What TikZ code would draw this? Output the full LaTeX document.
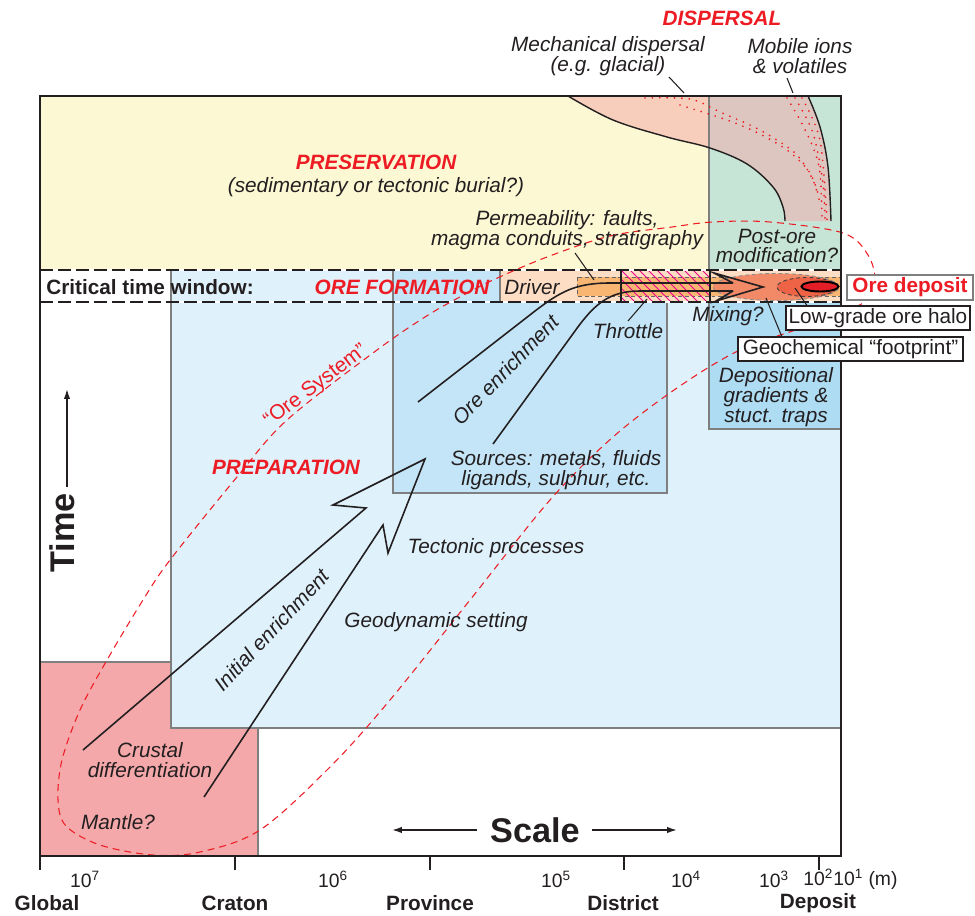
\documentclass[tikz,border=0pt]{standalone}
\usepackage{fontspec}
\setmainfont{Liberation Sans}
\usetikzlibrary{arrows.meta}
\definecolor{txt}{HTML}{231F20}
\definecolor{oxred}{HTML}{ED1C24}
\definecolor{yel}{HTML}{FCF8D4}
\definecolor{grn}{HTML}{C7E5D7}
\definecolor{salm}{HTML}{F6CEBB}
\definecolor{mauve}{HTML}{DDC6C0}
\definecolor{lblue}{HTML}{DFF1FB}
\definecolor{mblue}{HTML}{C4E5F7}
\definecolor{dblue}{HTML}{AEDCF3}
\definecolor{crust}{HTML}{F4A8AA}
\definecolor{porange}{HTML}{FDDEC5}
\definecolor{orng}{HTML}{F8B672}
\definecolor{ellA}{HTML}{F28A67}
\definecolor{ellB}{HTML}{EE6346}
\definecolor{ellC}{HTML}{E31E26}
\definecolor{hatchc}{HTML}{EC008C}
\definecolor{edgec}{HTML}{7F7F7F}
\tikzset{
  basefont/.style={font=\fontsize{11.8}{11.3}\selectfont},
  it/.style={font=\fontsize{11.8}{11.3}\selectfont\itshape, text=txt, align=center, inner sep=0pt},
  redb/.style={font=\fontsize{11.8}{11.3}\selectfont\bfseries\itshape, text=oxred, inner sep=0pt},
  redr/.style={font=\fontsize{11.8}{11.3}\selectfont, text=oxred, inner sep=0pt},
  bflbl/.style={font=\fontsize{11.8}{11.3}\selectfont\bfseries, text=txt, inner sep=0pt},
  ticklbl/.style={font=\fontsize{11}{12}\selectfont, text=txt, inner sep=0pt},
  biglbl/.style={font=\fontsize{19.5}{20}\selectfont\bfseries, text=txt, inner sep=0pt},
  whitebox/.style={font=\fontsize{11.8}{11.3}\selectfont, text=txt, fill=white, draw=txt, line width=0.6pt, inner sep=0pt, minimum height=0.48cm},
  depbox/.style={font=\fontsize{11.8}{11.3}\selectfont\bfseries, text=oxred, fill=white, draw=edgec, line width=0.6pt, inner sep=0pt, minimum height=0.5cm, minimum width=2.52cm},
  graybox/.style={draw=edgec, line width=0.6pt},
  leader/.style={draw=txt, line width=0.6pt},
  bigline/.style={draw=txt, line width=0.9pt, line join=miter},
  reddots/.style={draw=oxred, line width=1.1pt, dash pattern=on 0pt off 4.2pt, line cap=round},
  winline/.style={line width=1.7pt}
}
\begin{document}
\begin{tikzpicture}[x=0.02cm,y=-0.02cm]
\useasboundingbox (0,0) rectangle (975,916);

% preservation & green
\fill[yel] (40,96) rectangle (709,270);
\fill[grn] (709,96) rectangle (841,270);
% dispersal shape
\def\dispshape{plot[smooth, tension=0.6] coordinates {(568,96) (613,120) (667,137) (710,148) (747,164) (773,187) (783,207) (785,221)} -- plot[smooth, tension=0.6] coordinates {(831,221) (828,167) (820,127) (808,96)} -- cycle}
\fill[salm] \dispshape;
\begin{scope}
  \clip (709,96) rectangle (841,270);
  \fill[mauve] \dispshape;
\end{scope}
\draw[edgec, line width=0.6pt] (709,96) -- (709,270);
% red dotted trails
\draw[reddots] plot[smooth] coordinates {(645,98) (690,99) (720,112) (760,130) (795,153) (812,178) (818,196)};
\draw[reddots] plot[smooth] coordinates {(680,105) (727,120) (758,133) (787,150) (808,170) (817,190) (820,205)};
\draw[reddots] plot[smooth] coordinates {(787,98) (800,120) (813,147) (820,173) (822,220)};
\draw[reddots] plot[smooth] coordinates {(795,98) (813,133) (823,183) (825,220)};
\draw[reddots] plot[smooth] coordinates {(802,98) (820,140) (827,220)};
% black boundaries
\draw[txt, line width=0.8pt] plot[smooth, tension=0.6] coordinates {(568,96) (613,120) (667,137) (710,148) (747,164) (773,187) (783,207) (785,221)};
\draw[txt, line width=0.8pt] plot[smooth, tension=0.6] coordinates {(808,96) (820,127) (828,167) (831,221)};

% crustal differentiation box
\fill[crust] (40,662) rectangle (258,856);
\draw[graybox] (40,662) rectangle (258,856);
% preparation light blue
\fill[lblue] (171,270) rectangle (841,728);
\draw[graybox] (171,270) rectangle (841,728);
% ore enrichment box
\fill[mblue] (393,270) rectangle (667,493);
\draw[graybox] (393,270) rectangle (667,493);
% depositional box
\fill[dblue] (709,302) rectangle (841,429);
\draw[graybox] (709,302) rectangle (841,429);
% driver strip
\fill[porange] (500,270) rectangle (841,302);
\draw[graybox] (500,270) -- (500,302);
% orange conduit
\draw[fill=orng, draw=black!60, line width=0.5pt, dash pattern=on 2.2pt off 1.6pt] (577,277) rectangle (841,296);
% hatching in throttle
\begin{scope}
  \clip (621,270) rectangle (710,302);
  \foreach \i in {0,...,15} \draw[hatchc, line width=0.5pt] ({581+9*\i},266) -- ({621+9*\i},306);
\end{scope}
% ellipses
\draw[fill=ellA, draw=black!45, line width=0.5pt, dash pattern=on 2.2pt off 1.6pt] (776,287) ellipse [x radius=1.26cm, y radius=0.27cm];
\draw[fill=ellB, draw=black!75, line width=0.5pt, dash pattern=on 2.2pt off 1.6pt] (807,287) ellipse [x radius=0.6cm, y radius=0.19cm];
\draw[fill=ellC, draw=black, line width=1.1pt] (820,286.5) ellipse [x radius=0.37cm, y radius=0.1cm];

% ore-enrichment arrow
\draw[bigline] (418,402) -- (535,311) .. controls (560,292) and (575,283) .. (610,283) -- (733,283);
\draw[bigline] (493,444) -- (575,331) .. controls (595,303) and (610,291) .. (640,291) -- (733,291);
\draw[bigline] (733,283) -- (714,273) -- (763,287) -- (716,301) -- (733,291);
% throttle box
\draw[txt, line width=1.2pt] (621,270) rectangle (710,302);

% critical time window dashed lines
\draw[white, winline] (40,270) -- (841,270);
\draw[txt, winline, dash pattern=on 0.26cm off 0.1cm] (40,270) -- (841,270);
\draw[white, winline] (40,302) -- (841,302);
\draw[txt, winline, dash pattern=on 0.26cm off 0.1cm] (40,302) -- (841,302);

% initial enrichment arrow
\draw[bigline] (83,750) -- (366,508) -- (333,505) -- (425,459) -- (388,553) -- (383,525) -- (204,797);

% ore system loop
\draw[oxred, line width=0.6pt, dash pattern=on 0.14cm off 0.1cm] plot[smooth cycle, tension=0.55] coordinates {(547,257) (610,236) (672,227) (713,222) (770,222) (843,233) (868,255) (875,282) (863,303) (810,325) (740,350) (677,388) (613,437) (550,500) (470,600) (390,700) (330,767) (260,830) (200,852) (153,855) (100,845) (66,826) (58,800) (62,760) (80,710) (107,660) (143,600) (170,560) (237,477) (287,420) (377,350) (425,317) (458,298) (493,280)};

% frame
\draw[txt, line width=1.2pt] (40,96) rectangle (841,856);
% ticks
\foreach \x in {40,235,430,624,819} \draw[txt, line width=1.1pt] (\x,856) -- (\x,870);

% texts
\node[redb] (disp) at (722,18) {DISPERSAL};
\node[it] (mech) at (608,56) {Mechanical dispersal\\(e.g. glacial)};
\node[it] (mob) at (800,56) {Mobile ions\\\& volatiles};
\coordinate (mechA) at (669,77); \coordinate (mechB) at (684,93);
\coordinate (mobA) at (787,78); \coordinate (mobB) at (793,93);
\draw[leader] (mechA) -- (mechB);
\draw[leader] (mobA) -- (mobB);
\node[redb] (pres) at (376,162) {PRESERVATION};
\node[it] (sed) at (376,187) {(sedimentary or tectonic burial?)};
\node[it] (perm) at (567,230) {Permeability: faults,\\magma conduits, stratigraphy};
\coordinate (permA) at (575,253); \coordinate (permB) at (594,280);
\draw[leader] (permA) -- (permB);
\node[it] (post) at (777,246) {Post-ore\\modification?};
\node[bflbl] (crit) at (150,287) {Critical time window:};
\node[redb] (oreform) at (402,287) {ORE FORMATION};
\node[it] (driver) at (532,287) {Driver};
\node[depbox] (oredep) at (910,287.5) {Ore deposit};
\coordinate (haloA) at (795,288); \coordinate (haloB) at (808,307);
\coordinate (footA) at (766,298); \coordinate (footB) at (782,337);
\draw[leader] (haloA) -- (haloB);
\draw[leader] (footA) -- (footB);
\node[whitebox, minimum width=3.68cm] (halo) at (878,318) {Low-grade ore halo};
\node[whitebox, minimum width=4.5cm] (foot) at (850.5,349) {Geochemical “footprint”};
\node[it] (mix) at (728,316) {Mixing?};
\node[it] (thr) at (628,331) {Throttle};
\coordinate (thrA) at (628,321); \coordinate (thrB) at (647,299);
\draw[leader] (thrA) -- (thrB);
\node[it] (dep) at (776,397) {Depositional\\gradients \&\\stuct. traps};
\node[it, rotate=46] (oreen) at (506,370) {Ore enrichment};
\node[it] (src) at (556,470) {Sources: metals, fluids\\ligands, sulphur, etc.};
\node[redb] (prep) at (286,467) {PREPARATION};
\node[redr, rotate=37] (oresys) at (316,386) {“Ore System”};
\node[it] (tect) at (496,548) {Tectonic processes};
\node[it] (geo) at (436,622) {Geodynamic setting};
\node[it, rotate=47] (init) at (272,630) {Initial enrichment};
\node[it] (crustal) at (150,760) {Crustal\\differentiation};
\node[it] (mantle) at (118,822) {Mantle?};

\node[biglbl, rotate=90] (time) at (62,533) {Time};
\coordinate (timeA) at (67,487); \coordinate (timeB) at (67,389);
\draw[txt, line width=0.9pt, -{Latex[length=0.2cm, width=0.13cm]}] (timeA) -- (timeB);
\node[biglbl] (scale) at (535,830) {Scale};
\coordinate (scL1) at (477,830); \coordinate (scL2) at (392,830);
\coordinate (scR1) at (592,830); \coordinate (scR2) at (677,830);
\draw[txt, line width=0.9pt, -{Latex[length=0.2cm, width=0.13cm]}] (scL1) -- (scL2);
\draw[txt, line width=0.9pt, -{Latex[length=0.2cm, width=0.13cm]}] (scR1) -- (scR2);

% axis labels
\node[ticklbl] (t7) at (85,879) {10\textsuperscript{7}};
\node[ticklbl] (t6) at (333,879) {10\textsuperscript{6}};
\node[ticklbl] (t5) at (556,879) {10\textsuperscript{5}};
\node[ticklbl] (t4) at (686,879) {10\textsuperscript{4}};
\node[ticklbl] (t3) at (774,879) {10\textsuperscript{3}};
\node[ticklbl, anchor=west] (t21) at (803,879) {10\textsuperscript{2}10\textsuperscript{1} (m)};
\node[bflbl] (global) at (47,903) {Global};
\node[bflbl] (craton) at (235,903) {Craton};
\node[bflbl] (province) at (430,903) {Province};
\node[bflbl] (district) at (623,903) {District};
\node[bflbl] (deposit) at (818,903) {Deposit};
\end{tikzpicture}
\end{document}
